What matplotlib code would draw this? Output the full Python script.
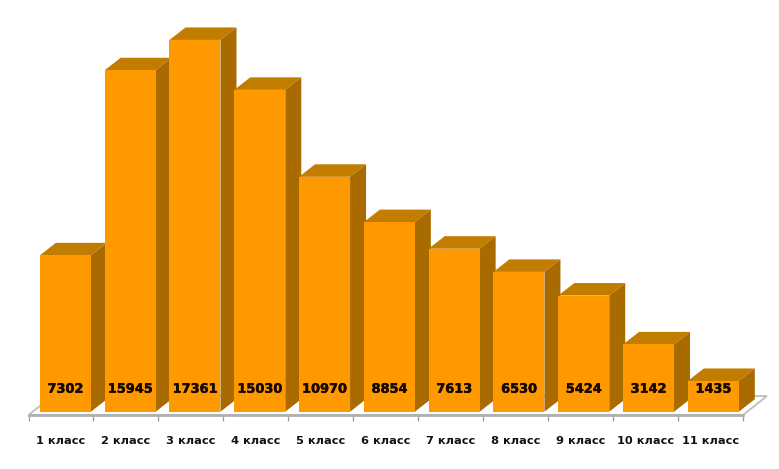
import numpy as np
import matplotlib as mpl
mpl.use('Agg')
import matplotlib.pyplot as plt
import matplotlib.patheffects as pe
from matplotlib.patches import Polygon

classes = ['1 класс', '2 класс', '3 класс', '4 класс', '5 класс', '6 класс',
           '7 класс', '8 класс', '9 класс', '10 класс', '11 класс']
values = [7302, 15945, 17361, 15030, 10970, 8854, 7613, 6530, 5424, 3142, 1435]

W, H = 779, 469
# pixel scale of the picture
px_x = 64.95
per_px = 46.7

fig = plt.figure(figsize=(W / 100, H / 100), dpi=100, facecolor='white')
left, right, bottom, top = 28.5, 743, 415, 10
ax = fig.add_axes([left / W, 1 - bottom / H, (right - left) / W, (bottom - top) / H])
ax.set_xlim(0, 11)
ax.set_ylim(-3.3 * per_px, (411.7 - top) * per_px)
ax.patch.set_visible(False)

front = '#FF9900'
top_col = '#C27C00'
side_col = '#A96B00'
grey = '#B0B0B0'

width = 51 / px_x
shift = 4.5 / px_x
dx = 16 / px_x
dy = 12.5 * per_px

# floor
fx = 24 / px_x
fy = 19 * per_px
y0 = ax.get_ylim()[0]
ax.add_patch(Polygon([(0, y0), (11, y0), (11 + fx, y0 + fy), (fx, y0 + fy)], closed=True,
                     fc='white', ec='#BEBEBE', lw=1.3, zorder=0, clip_on=False))

ticks = np.arange(len(values)) + 0.5
# bars sit a bit closer together than the ticks
xs = ticks * 0.9975 + shift
ax.bar(xs, values, width=width, color=front, lw=0, zorder=3)
for x, v in zip(xs, values):
    x0 = x - width / 2
    x1 = x + width / 2
    ax.add_patch(Polygon([(x0, v), (x1, v), (x1 + dx, v + dy), (x0 + dx, v + dy)],
                         closed=True, fc=top_col, ec='none', zorder=2, clip_on=False))
    ax.add_patch(Polygon([(x1, 0), (x1 + dx, dy), (x1 + dx, v + dy), (x1, v)],
                         closed=True, fc=side_col, ec='none', zorder=2, clip_on=False))
    ax.text(x, 22.5 * per_px, str(v), ha='center', va='center', fontsize=9.3,
            fontweight='bold', color='#160800', zorder=4,
            path_effects=[pe.withStroke(linewidth=0.3, foreground='#160800')])

for s in ['top', 'left', 'right']:
    ax.spines[s].set_visible(False)
ax.spines['bottom'].set_color(grey)
ax.spines['bottom'].set_linewidth(2)
ax.set_yticks([])
ax.set_xticks(np.arange(12))
ax.set_xticklabels([])
ax.tick_params(axis='x', which='major', length=4.5, width=0.9, color='#999999')
ax.set_xticks(ticks, minor=True)
ax.set_xticklabels(classes, minor=True, fontsize=8.2, fontweight='bold', color='#111111')
ax.tick_params(axis='x', which='minor', length=0, pad=15)

fig.savefig('out.png', dpi=100)
